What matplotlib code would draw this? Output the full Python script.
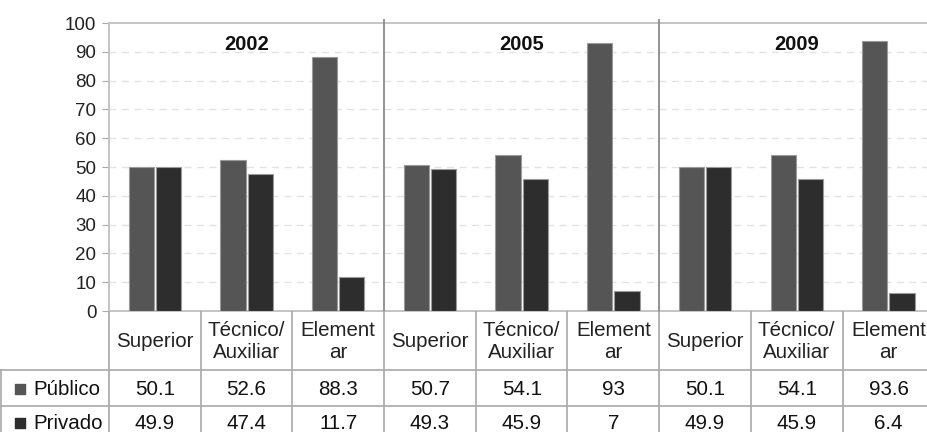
import numpy as np
import matplotlib
matplotlib.use("Agg")
import matplotlib.pyplot as plt

plt.rcParams["font.family"] = ["Liberation Sans", "DejaVu Sans"]

years = ["2002", "2005", "2009"]
levels = ["Superior", "Técnico/\nAuxiliar", "Element\nar"]
publico = [50.1, 52.6, 88.3, 50.7, 54.1, 93, 50.1, 54.1, 93.6]
privado = [49.9, 47.4, 11.7, 49.3, 45.9, 7, 49.9, 45.9, 6.4]
series_names = ["Público", "Privado"]
yticks = list(range(0, 101, 10))

C_PUB = "#555555"
C_PRI = "#2d2d2d"

W, H = 928, 432
fig = plt.figure(figsize=(W / 100, H / 100), dpi=100)

# pixel layout
x0, colw = 109, 91.7
ytop, ybot = 23, 311
ncol = len(publico)
ax = fig.add_axes([x0 / W, (H - ybot) / H, ncol * colw / W, (ybot - ytop) / H])

x = np.arange(ncol)
bw, off = 0.275, 0.148
ax.bar(x - off, publico, bw, color=C_PUB, edgecolor="#9a9a9a", lw=0.8, zorder=3)
ax.bar(x + off, privado, bw, color=C_PRI, edgecolor="#9a9a9a", lw=0.8, zorder=3)

ax.set_xlim(-0.5, ncol - 0.5)
ax.set_ylim(0, 100)
ax.set_yticks(yticks)
ax.set_xticks([])
ax.tick_params(axis="y", labelsize=13.5, length=5, color="#aaaaaa", pad=4,
               labelcolor="#222222")
for y in yticks[1:-1]:
    ax.axhline(y, color="#e2e2e2", lw=1, ls=(0, (5, 4)), zorder=1)
for s in ["left", "top", "bottom"]:
    ax.spines[s].set_color("#c4c4c4")
    ax.spines[s].set_linewidth(1.4)
ax.spines["right"].set_visible(False)

for g, yr in enumerate(years):
    ax.text(3 * g + 1, 92.4, yr, ha="center", va="center", fontsize=14.5,
            fontweight="bold", color="#111111")
    if g > 0:
        ax.axvline(3 * g - 0.5, ymin=0, ymax=1.01, color="#8a8a8a", lw=1.3,
                   clip_on=False, zorder=4)

# data table below the axes, in pixel coordinates
tb = fig.add_axes([0, 0, 1, (H - ybot) / H])
tb.set_xlim(0, W)
tb.set_ylim(H, ybot)
tb.axis("off")
lc = "#a8a8a8"
r1, r2 = 370, 406
tb.plot([0, W], [r1, r1], color=lc, lw=1.2)
tb.plot([0, W], [r2, r2], color=lc, lw=1.2)
tb.plot([0.8, 0.8], [r1, H], color=lc, lw=1.2)
for i in range(ncol + 1):
    xb = x0 + i * colw
    tb.plot([xb, xb], [ybot, H], color=lc, lw=1.2)

fs = 14.8
for i in range(ncol):
    xc = x0 + (i + 0.5) * colw
    tb.text(xc, (ybot + r1) / 2 + 1, levels[i % 3], ha="center", va="center",
            fontsize=fs, color="#222222", linespacing=1.25)
    tb.text(xc, (r1 + r2) / 2 + 1, f"{publico[i]:g}", ha="center",
            va="center", fontsize=fs, color="#111111")
    tb.text(xc, (r2 + H) / 2 + 4, f"{privado[i]:g}", ha="center",
            va="center", fontsize=fs, color="#111111")

for yc, name, c in [((r1 + r2) / 2 + 1, series_names[0], C_PUB),
                    ((r2 + H) / 2 + 4, series_names[1], C_PRI)]:
    tb.scatter([20], [yc], marker="s", s=45, color=c, clip_on=False)
    tb.text(33, yc, name, ha="left", va="center", fontsize=fs,
            color="#111111")

fig.savefig("out.png", dpi=100, facecolor="white")
